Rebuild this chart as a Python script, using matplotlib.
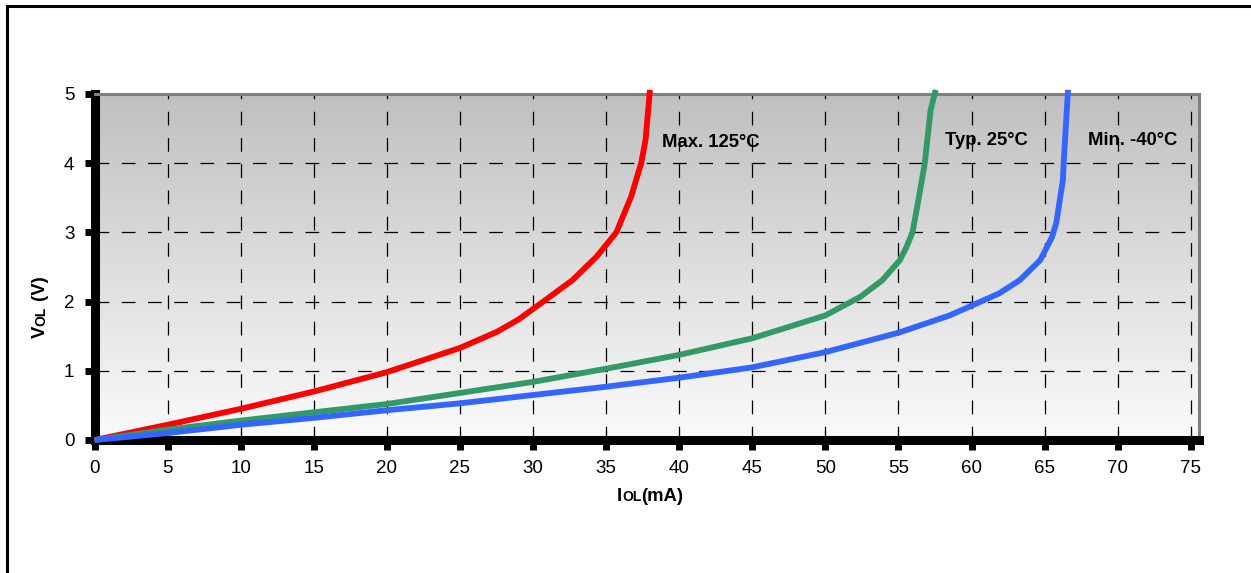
import numpy as np
import matplotlib
matplotlib.use("Agg")
import matplotlib.pyplot as plt
from matplotlib.colors import LinearSegmentedColormap
from matplotlib.lines import Line2D
from matplotlib.ticker import MultipleLocator

plt.rcParams['font.family'] = ['Liberation Sans', 'DejaVu Sans']

# I_OL (mA) vs V_OL (V)
red_x = [0, 5, 10, 15, 20, 25, 27.5, 29, 30.7, 32.7, 34.35, 35.7, 36.7, 37.4, 37.7, 38.0]
red_y = [0, 0.22, 0.45, 0.70, 0.98, 1.33, 1.56, 1.74, 2.00, 2.31, 2.65, 3.00, 3.51, 4.00, 4.34, 5.06]

green_x = [0, 5, 10, 15, 20, 25, 30, 35, 40, 45, 50, 52.4, 53.9, 55.1, 55.55, 55.96, 56.4, 56.8, 57.2, 57.55]
green_y = [0, 0.15, 0.28, 0.40, 0.52, 0.68, 0.84, 1.03, 1.23, 1.47, 1.80, 2.07, 2.31, 2.60, 2.79, 3.00, 3.51, 4.00, 4.77, 5.06]

blue_x = [0, 5, 10, 15, 20, 25, 30, 35, 40, 45, 50, 55, 58.5, 60.1, 61.9, 63.3, 64.7, 65.5, 65.8, 66.25, 66.3, 66.6]
blue_y = [0, 0.10, 0.22, 0.32, 0.43, 0.53, 0.65, 0.77, 0.90, 1.05, 1.27, 1.55, 1.80, 1.95, 2.12, 2.31, 2.60, 2.93, 3.14, 3.76, 4.00, 5.06]

labels = ["Max. 125°C", "Typ. 25°C", "Min. -40°C"]
label_x = [38.8, 58.2, 67.95]
label_y = [4.3, 4.33, 4.33]

fig = plt.figure(figsize=(12.51, 5.73), dpi=100)
ax = fig.add_axes([94.5 / 1251, 133 / 573, 1104.5 / 1251, 346 / 573])

# background gradient, grey at the top fading to white
cmap = LinearSegmentedColormap.from_list("bg", ["#fbfbfb", "#c0c0c0"])
grad = np.linspace(0, 1, 256).reshape(-1, 1)
ax.imshow(grad, extent=[0, 75.56, 0, 5], origin="lower", aspect="auto",
          cmap=cmap, zorder=0)

ax.plot(red_x, red_y, color="#ff0000", lw=4.2, clip_on=False, zorder=4, solid_capstyle="butt")
ax.plot(green_x, green_y, color="#339966", lw=4.2, clip_on=False, zorder=4, solid_capstyle="butt")
ax.plot(blue_x, blue_y, color="#3366ff", lw=4.2, clip_on=False, zorder=4, solid_capstyle="butt")

for t, x, y in zip(labels, label_x, label_y):
    ax.text(x, y, t, fontsize=13.3, fontweight="bold", va="center", ha="left", zorder=5)

ax.set_xlim(0, 75.56)
ax.set_ylim(0, 5)
ax.xaxis.set_major_locator(MultipleLocator(5))
ax.xaxis.set_minor_locator(MultipleLocator(5))
ax.xaxis.remove_overlapping_locs = False
ax.yaxis.set_major_locator(MultipleLocator(1))

ax.grid(True, which="major", color="black", lw=0.9, ls=(0, (11, 10)), zorder=1)
ax.set_axisbelow(True)

ax.tick_params(axis="both", which="major", direction="out", length=7.5, width=5,
               labelsize=13.5, color="black")
ax.tick_params(axis="x", which="major", pad=7)
ax.tick_params(axis="y", which="major", pad=7)
ax.tick_params(axis="x", which="minor", direction="in", length=7.5, width=0.8, color="black")

for s in ["left", "bottom"]:
    ax.spines[s].set_linewidth(6.5)
    ax.spines[s].set_color("black")
    ax.spines[s].set_capstyle("projecting")
for s in ["top", "right"]:
    ax.spines[s].set_linewidth(2.2)
    ax.spines[s].set_color("#808080")

# axis labels with a smaller "OL", pieces laid out on a shared baseline
renderer = fig.canvas.get_renderer()
inv = fig.transFigure.inverted()

def chain(parts, x0, y0, rotation=0):
    x, y = x0, y0
    for txt, size in parts:
        t = fig.text(x, y, txt, fontsize=size, fontweight="bold", ha="left",
                     va="baseline", rotation=rotation, rotation_mode="anchor")
        bb = t.get_window_extent(renderer)
        if rotation == 0:
            x = x + bb.width / fig.bbox.width
        else:
            y = y + bb.height / fig.bbox.height

chain([("I", 13.3), ("OL", 10), ("(mA)", 13.3)], 617 / 1251, 72 / 573)
chain([("V", 13.3), ("OL", 10), (" (V)", 13.3)], 45 / 1251, 235 / 573, rotation=90)

# outer frame lines (top and left)
fig.add_artist(Line2D([7 / 1251, 1], [1 - 6 / 573, 1 - 6 / 573], color="black", lw=2.2,
                      transform=fig.transFigure))
fig.add_artist(Line2D([7 / 1251, 7 / 1251], [0, 1 - 6 / 573], color="black", lw=2.2,
                      transform=fig.transFigure))

fig.savefig("out.png", dpi=100)
